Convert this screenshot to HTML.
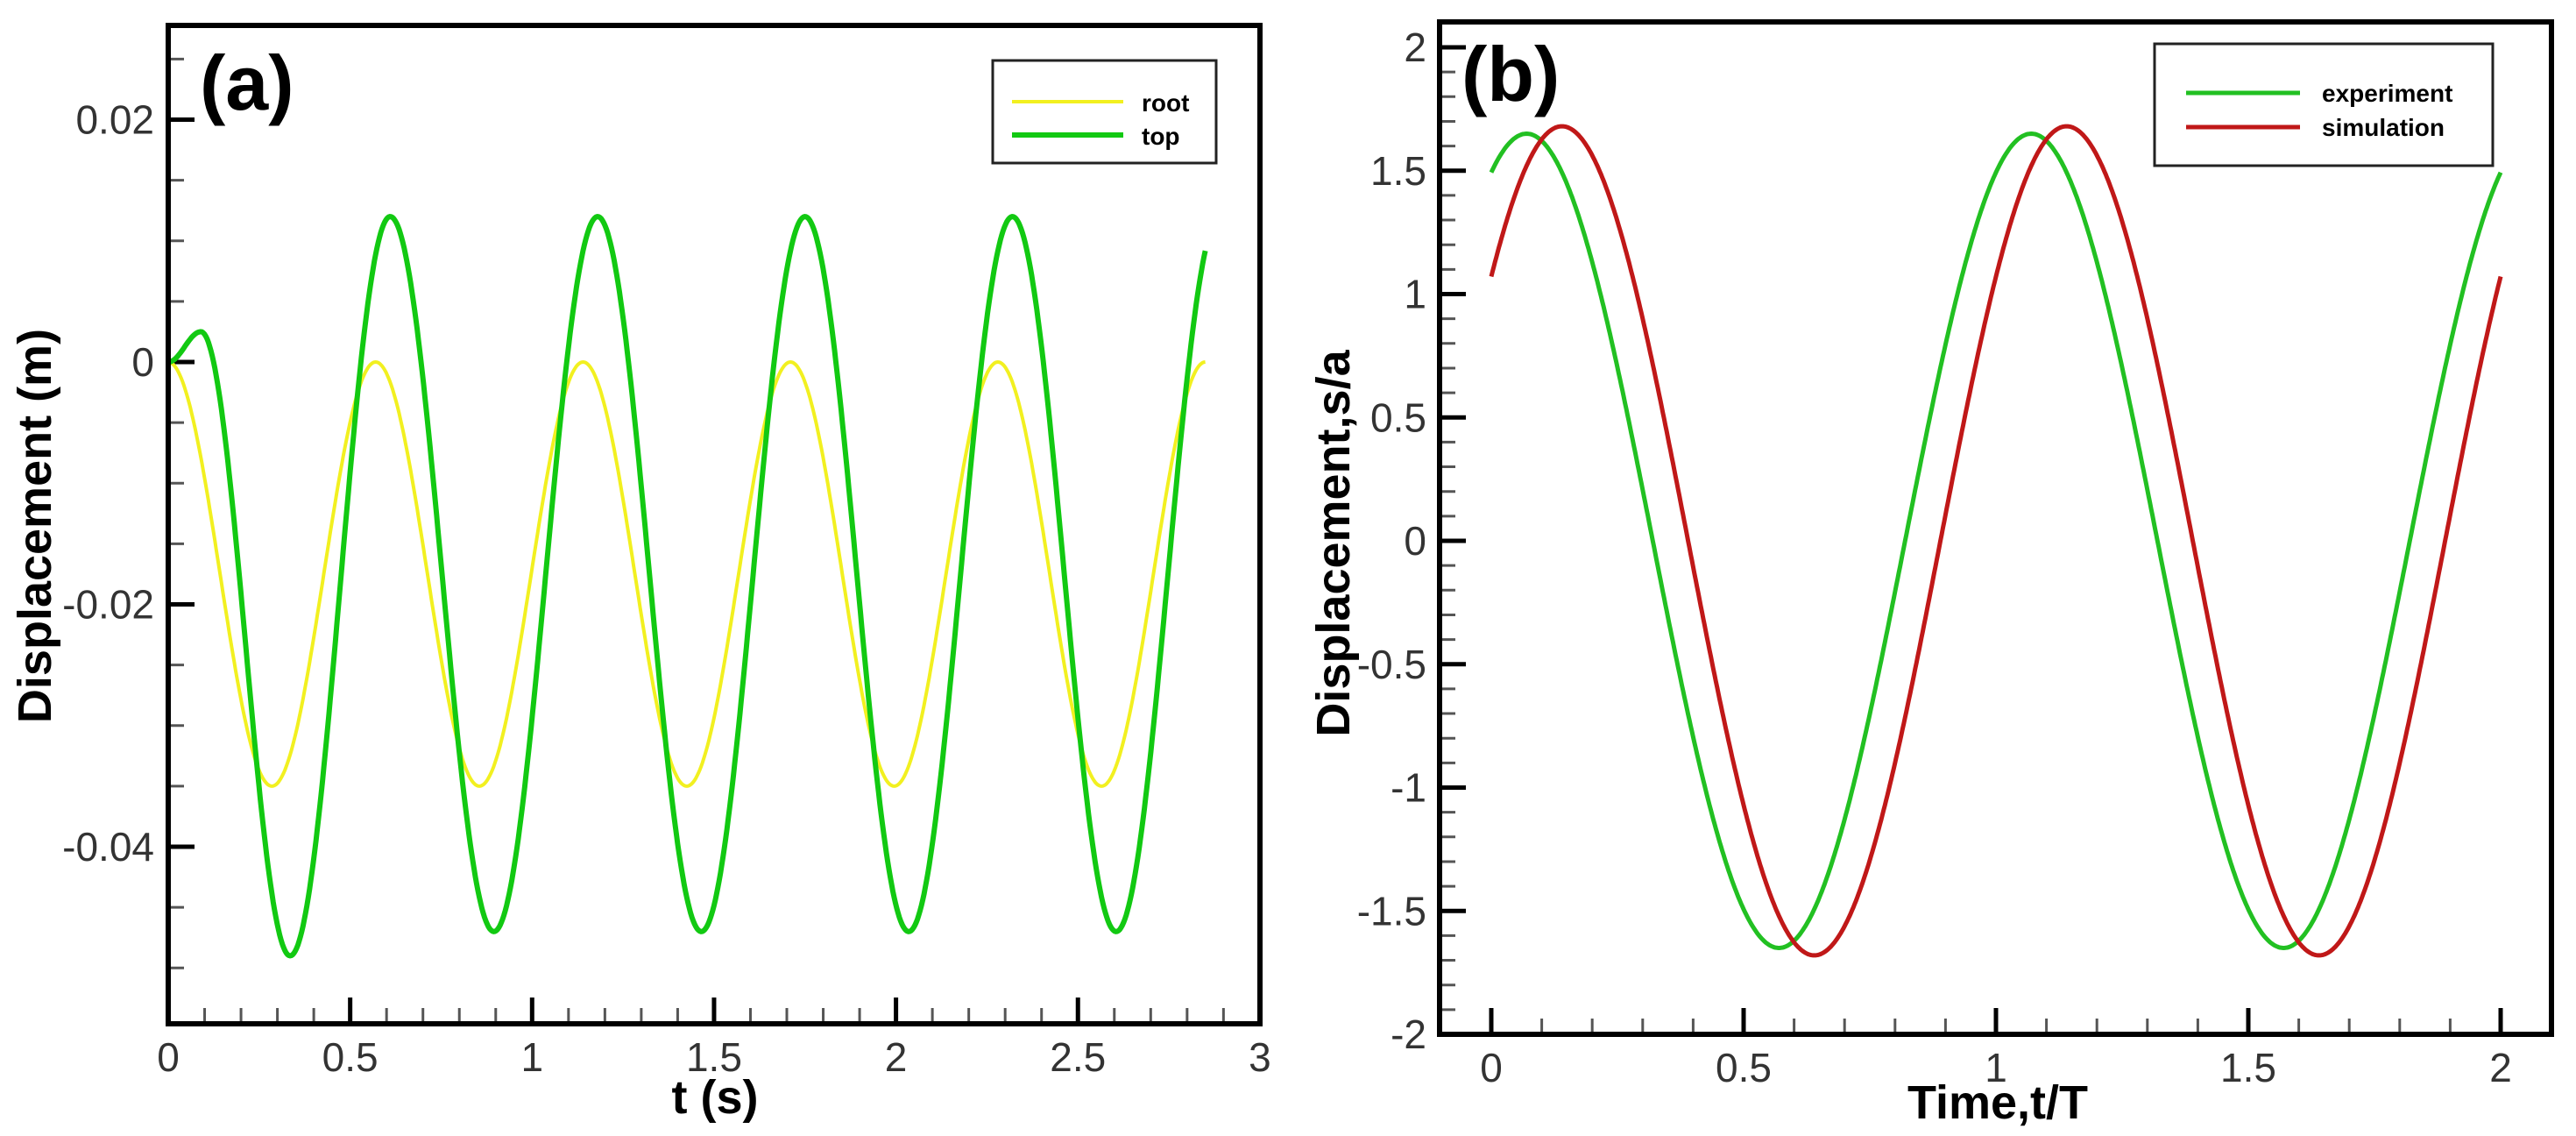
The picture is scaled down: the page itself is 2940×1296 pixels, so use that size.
<!DOCTYPE html>
<html><head><meta charset="utf-8"><style>
html,body{margin:0;padding:0;background:#fff;}
svg{display:block;font-family:"Liberation Sans",Arial,sans-serif;}
</style></head><body>
<svg id="s" width="2940" height="1296" viewBox="0 0 2940 1296" xmlns="http://www.w3.org/2000/svg">
<rect width="2940" height="1296" fill="#fff"/>
<g id="g"></g>
</svg>
<script>
(function(){
const NS="http://www.w3.org/2000/svg",g=document.getElementById('g');
function el(t,a,txt){const e=document.createElementNS(NS,t);for(const k in a)e.setAttribute(k,a[k]);if(txt!==undefined)e.textContent=txt;g.appendChild(e);return e;}
const A={l:192,r:1438,t:29,b:1168,x0:192,xs:415.3,y0:413,ys:276.5/0.02};
const ax=x=>A.x0+x*A.xs, ay=y=>A.y0-y*A.ys;
for(let i=0;i<=30;i++){const x=ax(i/10);const maj=i%5==0;if(i==0||i==30)continue;el('line',{x1:x,x2:x,y1:A.b,y2:A.b-(maj?30:18),stroke:maj?'#000':'#555','stroke-width':maj?5:3});}
for(let k=-11;k<=5;k++){const v=k*0.005;const y=ay(v);const maj=(k%4==0);if(y>A.b-2||y<A.t+2)continue;el('line',{x1:A.l,x2:A.l+(maj?30:18),y1:y,y2:y,stroke:maj?'#000':'#555','stroke-width':maj?5:3});}
const P=0.57;
function rootF(t){return -0.0175*(1-Math.cos(2*Math.PI*t/P));}
function hc(t,t0,t1,v0,v1){const u=(t-t0)/(t1-t0);return v0+(v1-v0)*(1-Math.cos(Math.PI*u))/2;}
function topF(t){if(t<0.09)return hc(t,0,0.09,0,0.0025);if(t<0.335)return hc(t,0.09,0.335,0.0025,-0.049);if(t<0.61)return hc(t,0.335,0.61,-0.049,0.012);return -0.0175+0.0295*Math.cos(2*Math.PI*(t-0.61)/P);}
function path(f,t0,t1,X,Y){let d='';for(let i=0;i<=800;i++){const t=t0+(t1-t0)*i/800;d+=(i?'L':'M')+X(t).toFixed(1)+' '+Y(f(t)).toFixed(1);}return d;}
el('path',{d:path(rootF,0,2.85,ax,ay),fill:'none',stroke:'#f2f020','stroke-width':4});
el('path',{d:path(topF,0,2.85,ax,ay),fill:'none',stroke:'#12c912','stroke-width':6});
el('rect',{x:A.l,y:A.t,width:A.r-A.l,height:A.b-A.t,fill:'none',stroke:'#000','stroke-width':6});
[0,0.5,1,1.5,2,2.5,3].forEach(v=>el('text',{x:ax(v),y:1222,'font-size':46,'text-anchor':'middle',fill:'#333'},String(v)));
[[0.02,'0.02'],[0,'0'],[-0.02,'-0.02'],[-0.04,'-0.04']].forEach(([v,s])=>el('text',{x:176,y:ay(v)+16,'font-size':46,'text-anchor':'end',fill:'#333'},s));
el('text',{x:816,y:1270,'font-size':54,'font-weight':'bold','text-anchor':'middle'},'t (s)');
el('text',{x:0,y:0,'font-size':54,'font-weight':'bold','text-anchor':'middle',transform:'translate(58,600) rotate(-90)'},'Displacement (m)');
el('text',{x:228,y:125,'font-size':88,'font-weight':'bold'},'(a)');
el('rect',{x:1133,y:69,width:255,height:117,fill:'#fff',stroke:'#222','stroke-width':3});
el('line',{x1:1155,x2:1282,y1:116,y2:116,stroke:'#f2f020','stroke-width':4});
el('line',{x1:1155,x2:1282,y1:154,y2:154,stroke:'#12c912','stroke-width':6});
el('text',{x:1303,y:127,'font-size':28,'font-weight':'bold'},'root');
el('text',{x:1303,y:165,'font-size':28,'font-weight':'bold'},'top');
const B={l:1643,r:2912,t:25,b:1180,x0:1702,xs:576,y0:617,ys:281.5};
const bx=x=>B.x0+x*B.xs, by=y=>B.y0-y*B.ys;
for(let i=0;i<=20;i++){const x=bx(i/10);const maj=i%5==0;el('line',{x1:x,x2:x,y1:B.b,y2:B.b-(maj?30:18),stroke:maj?'#000':'#555','stroke-width':maj?5:3});}
for(let i=-20;i<=20;i++){const y=by(i/10);const maj=i%5==0;if(y>B.b-2)continue;el('line',{x1:B.l,x2:B.l+(maj?30:18),y1:y,y2:y,stroke:maj?'#000':'#555','stroke-width':maj?5:3});}
const ex=t=>1.65*Math.cos(2*Math.PI*(t-0.07)), sm=t=>1.68*Math.cos(2*Math.PI*(t-0.14));
el('path',{d:path(ex,0,2,bx,by),fill:'none',stroke:'#22c022','stroke-width':5});
el('path',{d:path(sm,0,2,bx,by),fill:'none',stroke:'#c01818','stroke-width':5});
el('rect',{x:B.l,y:B.t,width:B.r-B.l,height:B.b-B.t,fill:'none',stroke:'#000','stroke-width':6});
[0,0.5,1,1.5,2].forEach(v=>el('text',{x:bx(v),y:1234,'font-size':46,'text-anchor':'middle',fill:'#333'},String(v)));
[2,1.5,1,0.5,0,-0.5,-1,-1.5,-2].forEach(v=>el('text',{x:1628,y:by(v)+16,'font-size':46,'text-anchor':'end',fill:'#333'},String(v)));
el('text',{x:2280,y:1276,'font-size':54,'font-weight':'bold','text-anchor':'middle'},'Time,t/T');
el('text',{x:0,y:0,'font-size':54,'font-weight':'bold','text-anchor':'middle',transform:'translate(1540,620) rotate(-90)'},'Displacement,s/a');
el('text',{x:1668,y:115,'font-size':88,'font-weight':'bold'},'(b)');
el('rect',{x:2459,y:50,width:386,height:139,fill:'#fff',stroke:'#222','stroke-width':3});
el('line',{x1:2495,x2:2625,y1:106,y2:106,stroke:'#22c022','stroke-width':5});
el('line',{x1:2495,x2:2625,y1:145,y2:145,stroke:'#c01818','stroke-width':5});
el('text',{x:2650,y:116,'font-size':28,'font-weight':'bold'},'experiment');
el('text',{x:2650,y:155,'font-size':28,'font-weight':'bold'},'simulation');
})();
</script>
</body></html>
